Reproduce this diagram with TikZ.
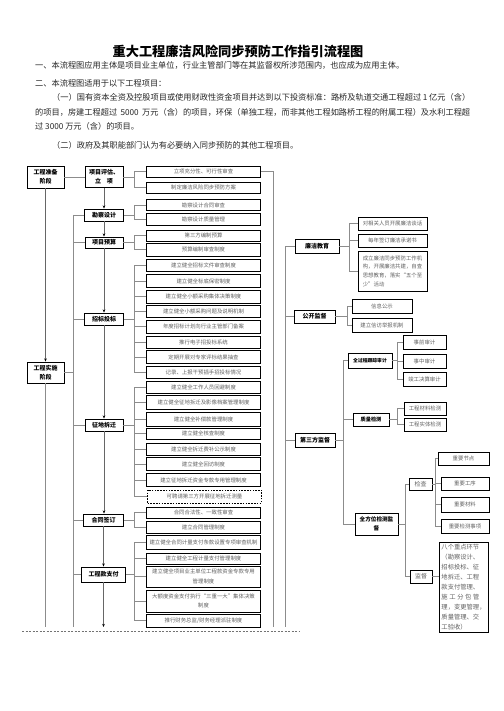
\documentclass[tikz,border=0pt]{standalone}
\usepackage{fontspec}
\setmainfont{Noto Sans CJK SC}
\usetikzlibrary{arrows.meta}
\newcommand\cjkglue{\hskip 0pt plus 1pt\relax}
\newcommand\stretchcjk{%
  \XeTeXinterchartokenstate=1
  \XeTeXinterchartoks 1 1 = {\cjkglue}%
  \XeTeXinterchartoks 1 2 = {\cjkglue}%
  \XeTeXinterchartoks 1 3 = {\cjkglue}%
  \XeTeXinterchartoks 2 1 = {\cjkglue}%
  \XeTeXinterchartoks 3 1 = {\cjkglue}%
  \XeTeXinterchartoks 3 2 = {\cjkglue}%
  \XeTeXinterchartoks 3 3 = {\cjkglue}%
  \XeTeXinterchartoks 0 1 = {\cjkglue}%
  \XeTeXinterchartoks 1 0 = {\cjkglue}%
  \XeTeXinterchartoks 3 0 = {\cjkglue}%
  \XeTeXinterchartoks 0 2 = {\cjkglue}%
}
\newcommand\myfan[5]{%
  \draw[conn] (#1.east) -- (#1.east -| #2);
  \draw[conn] (#3.west -| #2) -- (#4.west -| #2);
  \foreach \c in {#5} {\draw[conn] (\c.west) -- (\c.west -| #2);}
}
\tikzset{
  intro/.style={inner sep=0pt, anchor=west, text=black!85, font=\fontsize{8.2}{10}\selectfont},
  sbox/.style={draw=black, line width=0.9pt, inner sep=0pt, align=center, text=black,
    font=\fontsize{6}{8.8}\selectfont\bfseries},
  cbox/.style={draw=black, line width=0.9pt, inner sep=0pt, align=center, text=black!62,
    font=\fontsize{5.4}{9.5}\selectfont},
  mbox/.style={cbox, minimum width=114pt},
  conn/.style={draw=black!45, line width=0.8pt},
  flow/.style={draw=black!60, line width=0.8pt, -{Stealth[length=3.2pt,width=2.6pt,black]}},
}
\begin{document}
\begin{tikzpicture}[x=1pt,y=-1pt]
\useasboundingbox[fill=white] (0,0) rectangle (503,711);

% title and intro
\node[font=\fontsize{13.2}{15}\selectfont\bfseries] (title) at (238,51) {重大工程廉洁风险同步预防工作指引流程图};
\node[intro] (l1) at (35,65) {一、本流程图应用主体是项目业主单位，行业主管部门等在其监督权所涉范围内，也应成为应用主体。};
\node[intro] (l2) at (35,83) {二、本流程图适用于以下工程项目：};
\node[intro] (l3) at (52,97.5) {\stretchcjk\hbox to 418pt{（一）国有资本全资及控股项目或使用财政性资金项目并达到以下投资标准：路桥及轨道交通工程超过 1 亿元（含）}};
\node[intro] (l4) at (35,112) {\stretchcjk\hbox to 435pt{的项目，房建工程超过 5000 万元（含）的项目，环保（单独工程，而非其他工程如路桥工程的附属工程）及水利工程超}};
\node[intro] (l5) at (35,126.5) {过 3000 万元（含）的项目。};
\node[intro] (l6) at (52,145) {（二）政府及其职能部门认为有必要纳入同步预防的其他工程项目。};

% helper coordinates
\coordinate (bot) at (0,627);
\coordinate (BL) at (73,0);
\coordinate (BM) at (134,0);
\coordinate (BR) at (273,0);
\coordinate (BX) at (285,0);
\coordinate (Blj) at (349,0);
\coordinate (Bgk) at (347,0);
\coordinate (Bds) at (343,0);
\coordinate (Bq) at (397,0);
\coordinate (Bqf) at (405,0);
\coordinate (Bjc) at (435,0);

% left stage boxes
\node[sbox, minimum width=37pt, minimum height=22pt] (prep) at (45.5,177) {工程准备\\阶段};
\node[sbox, minimum width=37pt, minimum height=21pt] (impl) at (45.5,372.5) {工程实施\\阶段};

% middle stage boxes
\node[sbox, minimum width=38pt, minimum height=21pt] (pg) at (104,177) {项目评估、\\立\quad 项};
\node[sbox, minimum width=39pt, minimum height=12pt] (kc) at (104,215) {勘察设计};
\node[sbox, minimum width=38pt, minimum height=11pt] (ys) at (104,242.5) {项目预算};
\node[sbox, minimum width=39pt, minimum height=12pt] (zb) at (104,319) {招标投标};
\node[sbox, minimum width=38pt, minimum height=12pt] (zd) at (104,425) {征地拆迁};
\node[sbox, minimum width=40pt, minimum height=12pt] (ht) at (103.5,520) {合同签订};
\node[sbox, minimum width=44pt, minimum height=15pt] (gc) at (103.5,574.5) {工程款支付};

% middle children
\node[mbox, minimum height=11pt] (pg1) at (203.5,171.5) {立项充分性、可行性审查};
\node[mbox, minimum height=11pt] (pg2) at (203.5,187.5) {制定廉洁风险同步预防方案};
\node[mbox, minimum height=11pt] (kc1) at (203.5,205) {勘察设计合同审查};
\node[mbox, minimum height=12pt] (kc2) at (203.5,219) {勘察设计质量管理};
\node[mbox, minimum height=11pt] (ys1) at (203.5,235.5) {第三方编制预算};
\node[mbox, minimum height=13pt] (ys2) at (203.5,249.5) {预算编制审查制度};

\node[mbox, minimum height=12pt] (zb1) at (203.5,265) {建立健全招标文件审查制度};
\node[mbox, minimum height=13pt] (zb2) at (203.5,281) {建立健全标底保密制度};
\node[mbox, minimum height=13pt] (zb3) at (203.5,296.5) {建立健全小额采购集体决策制度};
\node[mbox, minimum height=12pt] (zb4) at (203.5,311.5) {建立健全小额采购问题及说明机制};
\node[mbox, minimum height=13pt] (zb5) at (203.5,326.5) {年度招标计划向行业主管部门备案};
\node[mbox, minimum height=12pt] (zb6) at (203.5,342) {推行电子招投标系统};
\node[mbox, minimum height=13pt] (zb7) at (203.5,357) {定期开展对专家评标结果抽查};
\node[mbox, minimum height=12pt] (zb8) at (203.5,372) {记录、上报干预插手招投标情况};

\node[mbox, minimum height=12pt] (zd1) at (203.5,387) {建立健全工作人员回避制度};
\node[mbox, minimum height=14pt] (zd2) at (203.5,402.5) {建立健全征地拆迁及影像档案管理制度};
\node[mbox, minimum height=14pt] (zd3) at (203.5,419.5) {建立健全补偿款管理制度};
\node[mbox, minimum height=11pt] (zd4) at (203.5,433.5) {建立健全核查制度};
\node[mbox, minimum height=12pt] (zd5) at (203.5,449) {建立健全拆迁费补公示制度};
\node[mbox, minimum height=13pt] (zd6) at (203.5,464) {建立健全回访制度};
\node[mbox, minimum height=13pt] (zd7) at (203.5,480) {建立征地拆迁资金专款专用管理制度};
\node[mbox, minimum height=13pt, dashed, line width=0.7pt, dash pattern=on 1.6pt off 1.2pt] (zd8) at (204.5,496.5) {可聘请第三方开展征地拆迁测量};

\node[mbox, minimum height=11pt] (ht1) at (203.5,512.5) {合同合法性、一致性审查};
\node[mbox, minimum height=12pt] (ht2) at (203.5,527) {建立合同管理制度};

\node[mbox, minimum height=14pt] (gc1) at (203.5,542) {建立健全合同计量支付条款设置专项审查机制};
\node[mbox, minimum height=11pt] (gc2) at (203.5,558.5) {建立健全工程计量支付管理制度};
\node[mbox, minimum height=21pt] (gc3) at (203.5,576.5) {建立健全项目业主单位工程款资金专款专用\\管理制度};
\node[mbox, minimum height=22pt] (gc4) at (203.5,601) {大额度资金支付执行“三重一大”集体决策\\制度};
\node[mbox, minimum height=13pt] (gc5) at (203.5,620.5) {推行财务总监/财务经理派驻制度};

% right column
\node[sbox, minimum width=44pt, minimum height=14pt] (lj) at (317,246) {廉洁教育};
\node[cbox, minimum width=69pt, minimum height=13pt] (lj1) at (392.5,223.5) {对相关人员开展廉洁谈话};
\node[cbox, minimum width=69pt, minimum height=13pt] (lj2) at (392.5,240.5) {每年签订廉洁承诺书};
\node[cbox, minimum width=69pt, minimum height=40pt, align=left, font=\fontsize{5.4}{8.7}\selectfont] (lj3) at (392.5,271) {成立廉洁同步预防工作机\\构，开展廉洁共建，自查\\思想教育，落实“五个至\\少”活动};

\node[sbox, minimum width=41pt, minimum height=13pt] (gk) at (314.5,316.5) {公开监督};
\node[cbox, minimum width=60pt, minimum height=14pt] (gk1) at (382,306) {信息公示};
\node[cbox, minimum width=60pt, minimum height=14pt] (gk2) at (382,325) {建立信访举报机制};

\node[sbox, minimum width=40pt, minimum height=14pt] (dsf) at (315,440) {第三方监督};
\node[sbox, minimum width=44pt, minimum height=15pt, font=\fontsize{4.8}{6}\selectfont\bfseries] (qgc) at (370,360.5) {全过程跟踪审计};
\node[cbox, minimum width=43pt, minimum height=14pt] (qg1) at (424.5,342) {事前审计};
\node[cbox, minimum width=43pt, minimum height=14pt] (qg2) at (424.5,361) {事中审计};
\node[cbox, minimum width=43pt, minimum height=14pt] (qg3) at (424.5,379) {竣工决算审计};

\node[sbox, minimum width=36pt, minimum height=13pt, font=\fontsize{5.2}{6}\selectfont\bfseries] (zl) at (371,419.5) {质量检测};
\node[cbox, minimum width=42pt, minimum height=13pt] (zl1) at (425,408.5) {工程材料检测};
\node[cbox, minimum width=42pt, minimum height=13pt] (zl2) at (425,424.5) {工程实体检测};

\node[sbox, minimum width=43pt, minimum height=22pt, font=\fontsize{5.6}{9}\selectfont\bfseries] (qfw) at (376.5,524) {全方位检测监\\督};
\node[cbox, minimum width=23pt, minimum height=12pt, font=\fontsize{6}{8}\selectfont] (jc) at (420.5,484) {检查};
\node[cbox, minimum width=22pt, minimum height=13pt, font=\fontsize{6}{8}\selectfont] (jd) at (421,576.5) {监督};
\node[cbox, minimum width=51pt, minimum height=13pt] (jc1) at (463.5,458.5) {重要节点};
\node[cbox, minimum width=48pt, minimum height=13pt] (jc2) at (465,483.5) {重要工序};
\node[cbox, minimum width=48pt, minimum height=15pt] (jc3) at (465,504.5) {重要材料};
\node[cbox, minimum width=48pt, minimum height=14pt] (jc4) at (465,526) {重要检测事项};
\node[cbox, minimum width=49pt, minimum height=90pt, align=left, font=\fontsize{6.3}{10}\selectfont] (jd8) at (463.5,587) {八个重点环节\\（勘察设计、\\招标投标、征\\地拆迁、工程\\款支付管理、\\\hbox to 38pt{施\hfill 工\hfill 分\hfill 包\hfill 管}\\理，变更管理，\\质量管理、交\\工验收）};

% left connectors
\draw[conn] (prep.east) -- (pg.west);
\draw[flow] (prep.south) -- (impl.north);
\draw[conn] (impl.south) -- (impl.south |- bot);
\draw[conn] (kc.west -| BL) -- (BL |- bot);
\foreach \s in {kc,ys,zb,zd,ht,gc} {\draw[conn] (\s.west) -- (\s.west -| BL);}
\draw[conn] (impl.east) -- (impl.east -| BL);

% middle flow
\draw[flow] (pg.south) -- (pg.south |- kc.north);
\draw[flow] (kc.south) -- (kc.south |- ys.north);
\draw[flow] (ys.south) -- (ys.south |- zb.north);
\draw[flow] (zb.south) -- (zb.south |- zd.north);
\draw[flow] (zd.south) -- (zd.south |- ht.north);
\draw[flow] (ht.south) -- (ht.south |- gc.north);
\draw[flow] (gc.south) -- (gc.south |- bot);

% middle brackets
\myfan{pg}{BM}{pg1}{pg2}{pg1,pg2}
\myfan{kc}{BM}{kc1}{kc2}{kc1,kc2}
\myfan{ys}{BM}{ys1}{ys2}{ys1,ys2}
\myfan{zb}{BM}{zb1}{zb8}{zb1,zb2,zb3,zb4,zb5,zb6,zb7,zb8}
\myfan{zd}{BM}{zd1}{zd8}{zd1,zd2,zd3,zd4,zd5,zd6,zd7,zd8}
\myfan{ht}{BM}{ht1}{ht2}{ht1,ht2}
\myfan{gc}{BM}{gc1}{gc5}{gc1,gc2,gc3,gc4,gc5}

% right verticals
\draw[conn] (pg1.east) -- (pg1.east -| BR) -- (BR |- bot);
\draw[conn] (lj.west -| BX) -- (BX |- bot);
\foreach \s in {lj,gk,dsf} {\draw[conn] (\s.west) -- (\s.west -| BX);}

% right brackets
\myfan{lj}{Blj}{lj1}{lj3}{lj1,lj2,lj3}
\myfan{gk}{Bgk}{gk1}{gk2}{gk1,gk2}
\myfan{dsf}{Bds}{qgc}{qfw}{qgc,zl,qfw}
\myfan{qgc}{Bq}{qg1}{qg3}{qg1,qg2,qg3}
\myfan{zl}{Bq}{zl1}{zl2}{zl1,zl2}
\myfan{qfw}{Bqf}{jc}{jd}{jc,jd}
\myfan{jc}{Bjc}{jc1}{jc4}{jc1,jc2,jc3,jc4}
\draw[conn] (jd.east) -- (jd.east -| jd8.west);

% bottom dashed separator
\draw[black!55, line width=0.5pt, dash pattern=on 2pt off 1.5pt] (22,631) -- (300,631);
\end{tikzpicture}
\end{document}
